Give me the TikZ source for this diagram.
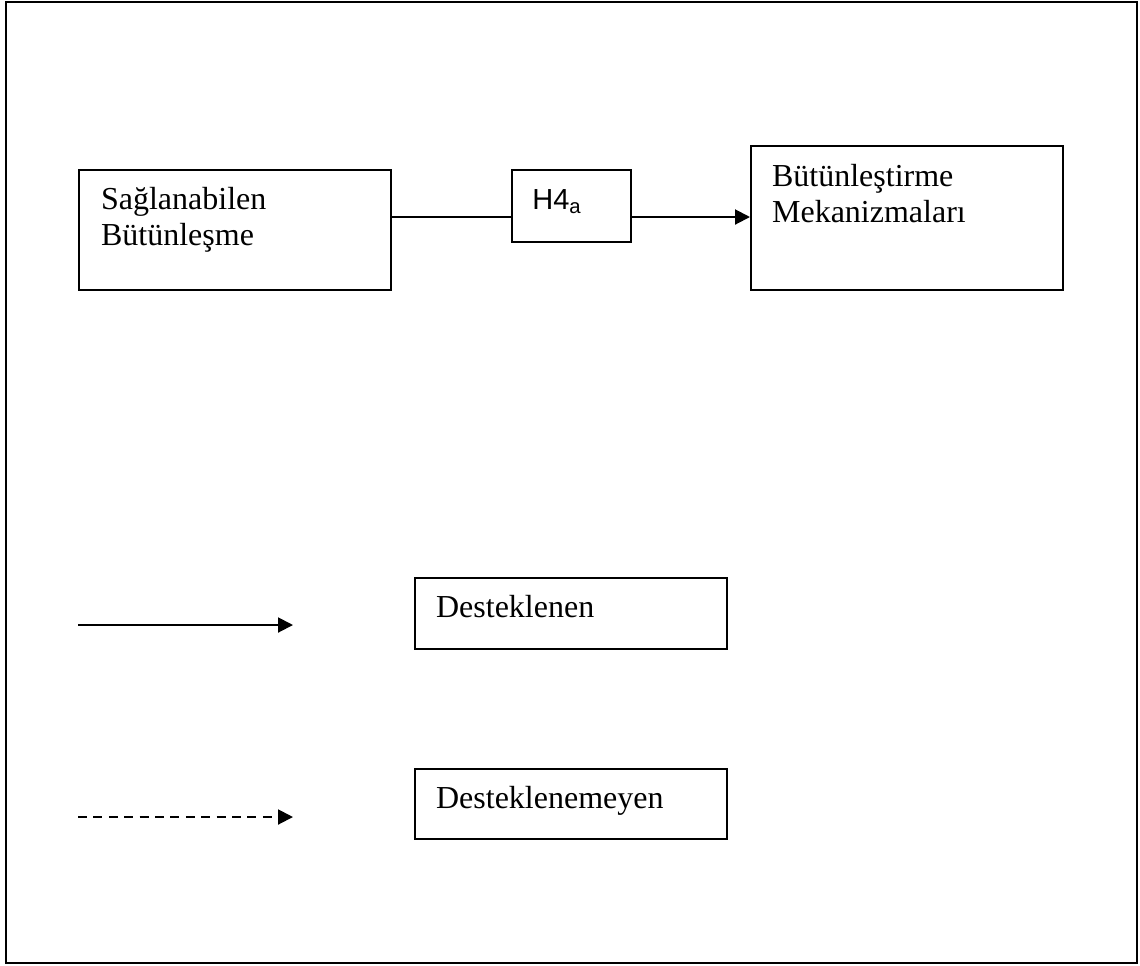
\documentclass[tikz,border=0pt]{standalone}
\usepackage{fontspec}
\setmainfont{Liberation Serif}
\newfontfamily\arialf{Liberation Sans}
\usetikzlibrary{arrows.meta,calc}
\begin{document}
\begin{tikzpicture}[x=0.5pt,y=-0.5pt,
  box/.style={draw,line width=1pt,rectangle,inner sep=0pt,anchor=north west},
  txt/.style={inner sep=0pt,anchor=base west,align=left,
    font=\fontsize{16pt}{18pt}\selectfont},
  htxt/.style={inner sep=0pt,anchor=base west,
    font=\arialf\fontsize{14.5pt}{17pt}\selectfont},
  link/.style={line width=1pt},
  arr/.style={line width=1pt,-{Triangle[length=7.5pt,width=7.5pt]}},
  dasharr/.style={arr,dash pattern=on 4.5pt off 3.2pt}]
  \useasboundingbox (0,0) rectangle (1140,965);
  % outer frame
  \node[box,minimum width=565.5pt,minimum height=480.5pt] (frame) at (5,1) {};

  % model boxes (two-line labels are anchored at the baseline of their last line)
  \node[box,minimum width=156pt,minimum height=60pt] (b1) at (78,169) {};
  \node[txt] (t1) at ($(b1.north west)+(22.7,76)$) {Sağlanabilen\\Bütünleşme};
  \node[box,minimum width=59.5pt,minimum height=36pt] (h) at (511,169) {};
  \node[htxt] (ht) at ($(h.north west)+(21,40)$) {H4\textsubscript{a}};
  \node[box,minimum width=156pt,minimum height=72pt] (b3) at (750,145) {};
  \node[txt] (t3) at ($(b3.north west)+(21.7,77)$) {Bütünleştirme\\Mekanizmaları};

  % connectors
  \coordinate (ly) at (0,217);
  \draw[link] (b1.east |- ly) -- (h.west |- ly);
  \draw[arr] (h.east |- ly) -- (b3.west |- ly);

  % legend
  \coordinate (s1) at (78,625);
  \coordinate (e1) at (293,625);
  \coordinate (s2) at (78,817);
  \coordinate (e2) at (293,817);
  \draw[arr] (s1) -- (e1);
  \draw[dasharr] (s2) -- (e2);
  \node[box,minimum width=156pt,minimum height=35.5pt] (l1) at (414,577) {};
  \node[txt] (lt1) at ($(l1.north west)+(21.7,40)$) {Desteklenen};
  \node[box,minimum width=156pt,minimum height=35pt] (l2) at (414,768) {};
  \node[txt] (lt2) at ($(l2.north west)+(21.7,40)$) {Desteklenemeyen};
\end{tikzpicture}
\end{document}
